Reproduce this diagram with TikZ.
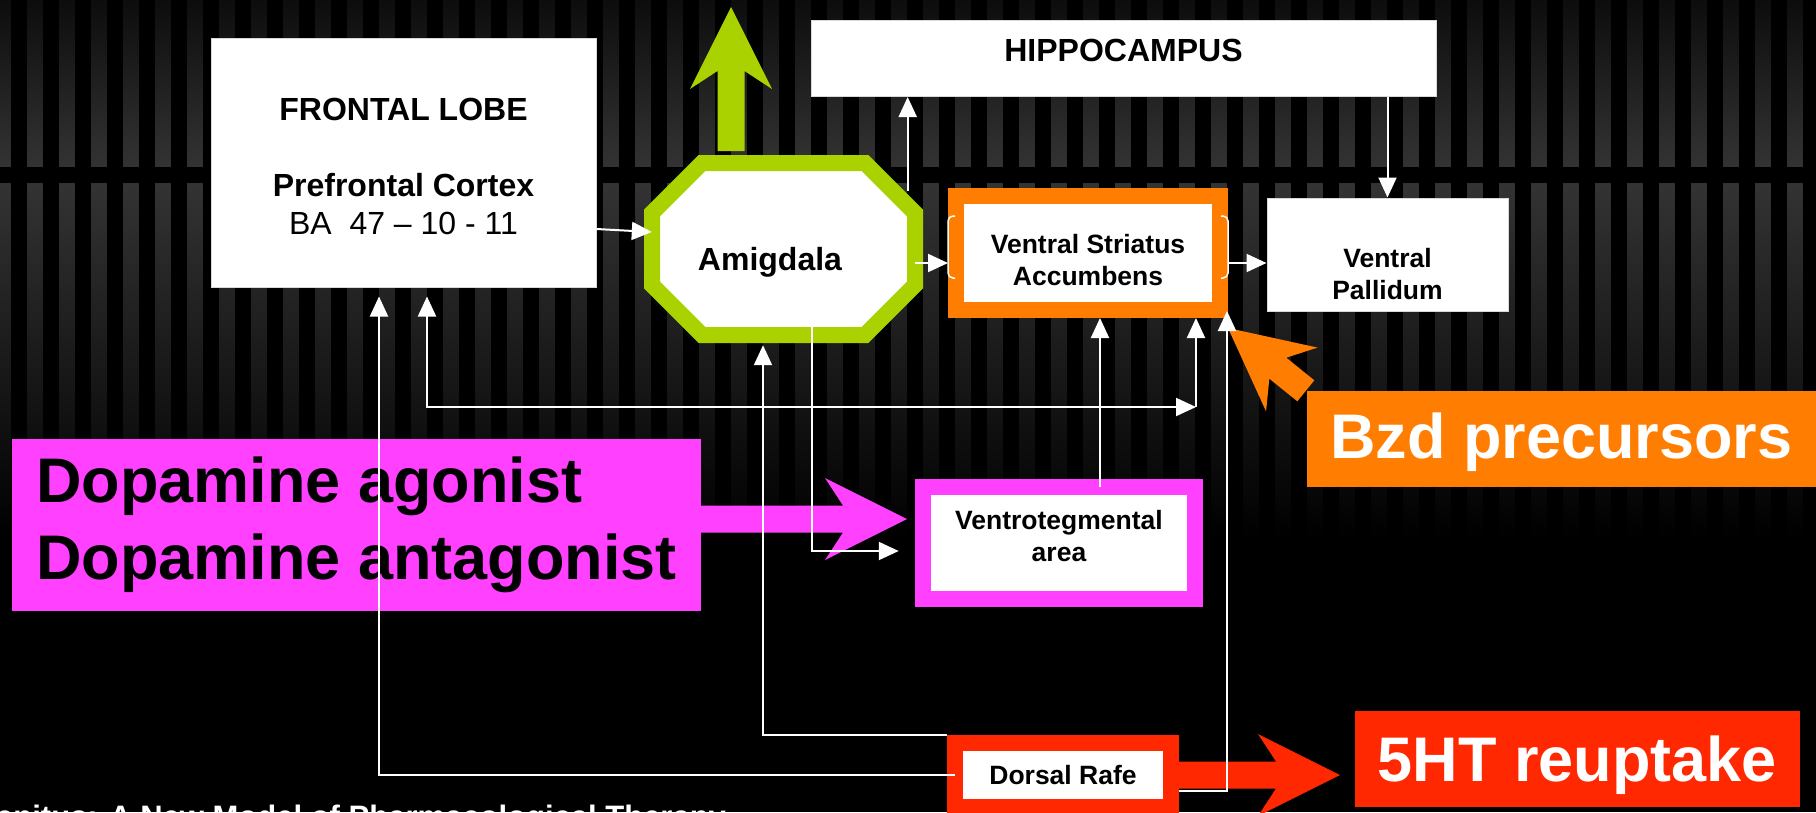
\documentclass[tikz,border=0pt]{standalone}
\usepackage{fontspec}
\setmainfont{Liberation Sans}
\usetikzlibrary{arrows.meta}

\definecolor{limegreen}{RGB}{170,210,0}
\definecolor{boxorange}{RGB}{255,125,0}
\definecolor{boxpink}{RGB}{255,64,255}
\definecolor{boxred}{RGB}{255,40,0}
\definecolor{stripegray}{RGB}{51,51,51}

\newcommand{\lobefont}{\fontsize{32}{38}\selectfont}
\newcommand{\areafont}{\fontsize{26.5}{32}\selectfont\bfseries}
\newcommand{\bigfont}{\fontsize{63}{77}\selectfont\bfseries}
% fat callout arrow, tip at the origin, pointing along +x
\newcommand{\fatarrow}[1]{(0,0) -- (-82,41) -- (-64,13.5) -- (-#1,13.5) -- (-#1,-13.5) -- (-64,-13.5) -- (-82,-41) -- cycle}

\tikzset{
  whitebox/.style={draw=black!15, line width=1pt, fill=white, inner sep=0pt, align=center},
  ringbox/.style={draw=#1, line width=16pt, fill=white, inner sep=0pt, align=center, font=\areafont},
  tagbox/.style={fill=#1, inner sep=0pt, font=\bigfont},
  wire/.style={draw=white, line width=2pt},
  bracket/.style={draw=white, line width=1.5pt, rounded corners=5pt}
}

\begin{document}
\begin{tikzpicture}[x=1pt, y=-1pt, >={Triangle[width=18pt,length=20pt]}]
\useasboundingbox (0,0) rectangle (1816,812);
\clip (0,0) rectangle (1816,812);

% background stripes
\fill[black] (0,0) rectangle (1816,812);
\shade[top color=white!5!black, middle color=white!19!black, bottom color=stripegray] (0,0) rectangle (1816,167);
\shade[top color=stripegray, middle color=white!11!black, bottom color=black] (0,183) rectangle (1816,540);
\foreach \k in {0,...,56}
  \fill[black] (11+32*\k,0) rectangle (27+32*\k,540);
\fill[black] (0,167) rectangle (1816,183);

% boxes
\node[whitebox, minimum width=385, minimum height=249, font=\lobefont] (frontal) at (403.5,162.5)
  {\rule{0pt}{30pt}\textbf{FRONTAL LOBE}\\[38pt]\textbf{Prefrontal Cortex}\\BA\ \ 47 – 10 - 11};
\node[whitebox, minimum width=625, minimum height=76, font=\lobefont\bfseries, text height=23pt, text depth=18pt] (hippo) at (1123.5,58.5) {HIPPOCAMPUS};

\draw[draw=limegreen, line width=16pt, fill=white] (702,163) -- (865,163) -- (915,213) -- (915,285)
  -- (865,335) -- (702,335) -- (652,285) -- (652,213) -- cycle;
\node[minimum width=263, minimum height=172, inner sep=0pt, font=\lobefont\bfseries, text height=43pt, text depth=0pt] (amig) at (783.5,249) {Amigdala\hspace*{27pt}};

\node[ringbox=boxorange, minimum width=264, minimum height=114] (vs) at (1088,253) {\rule{0pt}{33.5pt}Ventral Striatus\\Accumbens};
\node[whitebox, minimum width=241, minimum height=113, font=\areafont] (vp) at (1387.5,254.5) {\rule{0pt}{58pt}Ventral\\Pallidum};
\node[ringbox=boxpink, minimum width=272.5, minimum height=112.5] (vta) at (1059,542.75) {Ventrotegmental\\area\rule[-14pt]{0pt}{14pt}};
\node[ringbox=boxred, minimum width=216, minimum height=64] (dr) at (1063,775) {Dorsal Rafe};

\node[tagbox=boxpink, minimum width=689, minimum height=172, align=left] (dopa) at (356.5,525) {Dopamine agonist\\Dopamine antagonist};
\node[tagbox=boxorange, minimum width=509, minimum height=96, text=white] (bzd) at (1561.5,439) {\rule{0pt}{53pt}Bzd precursors};
\node[tagbox=boxred, minimum width=445, minimum height=96, text=white] (ht) at (1577.5,759) {\rule{0pt}{58pt}5HT reuptake};

% fat arrows
\fill[limegreen, shift={(731,7)}, rotate=90] \fatarrow{144};
\fill[boxpink, shift={(907,519)}] \fatarrow{206};
\fill[boxred, shift={(1340,775)}] \fatarrow{161};
\fill[boxorange, shift={(1228,328)}, rotate=141.1] \fatarrow{100};

% brackets on the striatus box
\draw[bracket] ([shift={(7,-37)}]vs.west) -- ++(-7,0) -- ++(0,62) -- ++(7,0);
\draw[bracket] ([shift={(-7,-37)}]vs.east) -- ++(7,0) -- ++(0,62) -- ++(-7,0);

% connectors
\coordinate (fvs) at (1196,407);
\draw[wire,->] ([yshift=-66.5pt]frontal.east) -- ([yshift=17pt]amig.west);
\draw[wire,->] ([shift={(-7.5,28)}]amig.north east) coordinate (ah) -- (ah |- hippo.south);
\draw[wire,->] ([yshift=-14pt]amig.east) -- ([yshift=-10pt]vs.west);
\draw[wire,->] ([yshift=-10pt]vs.east) -- ([yshift=-8.5pt]vp.west);
\draw[wire,->] (vp.north |- hippo.south) -- (vp.north);
\draw[wire,<->] ([shift={(23.5,9)}]frontal.south) |- (fvs);
\draw[wire,->] (fvs) -- (fvs |- vs.south);
\draw[wire,->] ([xshift=8pt]dr.west) -| ([shift={(-24.5,9)}]frontal.south);
\draw[wire,->] (dr.north west) -| ([shift={(-20.5,10)}]amig.south);
\draw[wire,->] ([shift={(28,-8)}]amig.south) |- ([shift={(-16,8.25)}]vta.west);
\draw[wire,->] ([shift={(41,8)}]vta.north) coordinate (vv) -- (vv |- vs.south);
\draw[wire,->] ([yshift=-16pt]dr.east) -| ([shift={(-1,-7)}]vs.south east);

\node[anchor=base west, inner sep=0pt, text=white, font=\fontsize{31}{37}\selectfont\bfseries] (title) at (-4,827)
  {enitus: A New Model of Pharmacological Therapy};
\end{tikzpicture}
\end{document}
